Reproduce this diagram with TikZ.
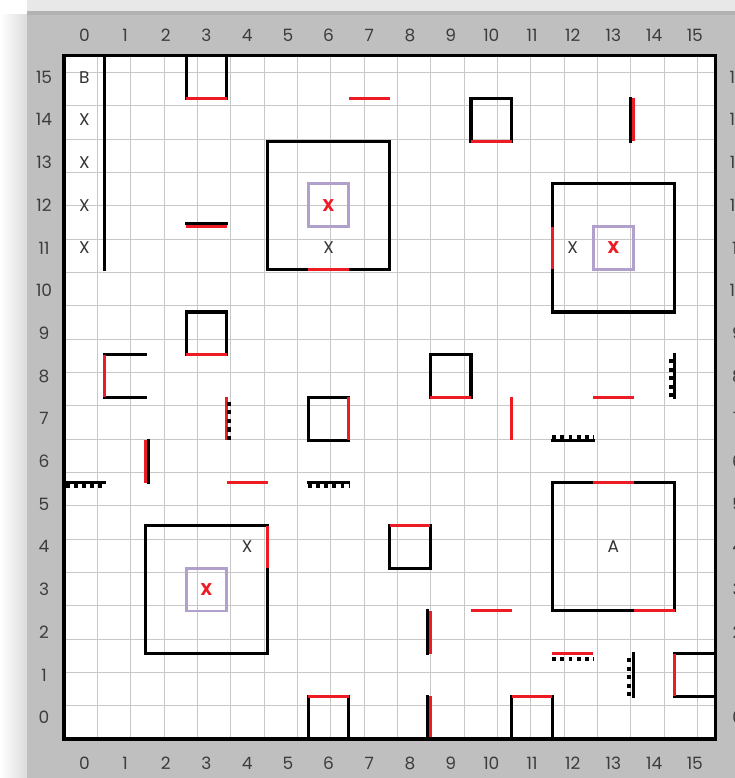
\documentclass[tikz,border=0pt]{standalone}
\usepackage{fontspec}
\setmainfont{Poppins}
\definecolor{framegray}{RGB}{191,191,191}
\definecolor{gridgray}{RGB}{200,200,200}
\definecolor{wallred}{RGB}{237,28,36}
\definecolor{cellpurple}{RGB}{178,160,204}
\definecolor{labelgray}{RGB}{60,60,60}
\tikzset{
	wall/.style={line width=2.6pt, line cap=rect},
	redwall/.style={wallred, line width=2.6pt},
	hcomb/.style={line width=3.2pt, dash pattern=on 3.3pt off 3.6pt},
	vcomb/.style={line width=3.2pt, dash pattern=on 3.5pt off 3.8pt},
	target/.style={draw=cellpurple, line width=2.4pt},
	numlabel/.style={text=labelgray, font=\fontsize{14.5}{15}\selectfont},
	cellmark/.style={text=black!80, font=\fontsize{14.5}{15}\selectfont},
	goalmark/.style={text=wallred, font=\bfseries\fontsize{14.5}{15}\selectfont},
}
\begin{document}
\begin{tikzpicture}[x=1.221cm,y=1.281cm]
	\useasboundingbox (-1.5725,-0.913) rectangle (16.486,17.307);
	\fill[white] (-1.5725,-0.913) rectangle (16.486,17.307);
	% frame and its shadow
	\shade[left color=white, right color=black!14] (-1.5725,-0.913) rectangle (-0.909,16.956);
	\fill[black!9] (-0.909,17.05) rectangle (16.486,17.307);
	\fill[black!30] (-0.909,16.956) rectangle (16.486,17.05);
	\fill[framegray] (-0.909,-0.913) rectangle (16.486,16.956);
	
	\fill[white] (0,0) rectangle (16,16);
	\draw[gridgray, line width=0.85pt] (0,0) grid (16,16);
	
	\foreach \i in {0,...,15}{
		\node[numlabel] (top\i) at (\i+0.5,16.487) {\i};
		\node[numlabel] (bot\i) at (\i+0.5,-0.562) {\i};
		\node[numlabel] (left\i) at (-0.49,\i+0.5) {\i};
		\node[numlabel] (right\i) at (16.55,\i+0.5) {\i};
	}
	
	% rooms
	\draw[wall] (1,16) -- (1,11);
	\draw[wall] (3,15) -- (3,16) (4,15) -- (4,16);
	\draw[redwall] (3,15) -- (4,15);
	\draw[wall] (3,12.07) -- (4,12.07);
	\draw[redwall] (3,12) -- (4,12);
	\draw[redwall] (7,15) -- (8,15);
	\draw[wall] (10,14) -- (10,15) -- (11,15) -- (11,14);
	\draw[redwall] (10,14) -- (11,14);
	\draw[wall] (13.925,14) -- (13.925,15);
	\draw[redwall] (14,14) -- (14,15);
	
	\draw[wall] (5,11) rectangle (8,14);
	\draw[redwall] (6,11) -- (7,11);
	\draw[wall] (12,10) rectangle (15,13);
	\draw[redwall] (12,11) -- (12,12);
	
	\draw[wall] (3,9) rectangle (4,10);
	\draw[redwall] (3,9) -- (4,9);
	\draw[wall] (2,9) -- (1,9) (1,8) -- (2,8);
	\draw[redwall] (1,8) -- (1,9);
	\draw[redwall] (4,7) -- (4,8);
	\draw[vcomb] (4.05,7) -- (4.05,8);
	\draw[redwall] (2,6) -- (2,7);
	\draw[wall] (2.075,6) -- (2.075,7);
	\draw[wall] (0,6) -- (1,6);
	\draw[hcomb] (0.05,5.93) -- (1,5.93);
	\draw[redwall] (4,6) -- (5,6);
	
	\draw[wall] (6,7) rectangle (7,8);
	\draw[redwall] (7,7) -- (7,8);
	\draw[wall] (6,6) -- (7,6);
	\draw[hcomb] (6,5.93) -- (7,5.93);
	\draw[wall] (9,8) rectangle (10,9);
	\draw[redwall] (9,8) -- (10,8);
	\draw[redwall] (11,7) -- (11,8);
	\draw[redwall] (13,8) -- (14,8);
	\draw[wall] (15,8) -- (15,9);
	\draw[vcomb] (14.92,8) -- (14.92,9);
	\draw[wall] (12,7) -- (13,7);
	\draw[hcomb] (12,7.08) -- (13,7.08);
	
	\draw[wall] (12,3) rectangle (15,6);
	\draw[redwall] (13,6) -- (14,6);
	\draw[redwall] (14,3) -- (15,3);
	\draw[wall] (2,2) rectangle (5,5);
	\draw[redwall] (5,4) -- (5,5);
	\draw[wall] (8,4) rectangle (9,5);
	\draw[redwall] (8,5) -- (9,5);
	\draw[wall] (8.925,2) -- (8.925,3) (8.925,0) -- (8.925,1);
	\draw[redwall] (9,2) -- (9,3) (9,0) -- (9,1);
	\draw[redwall] (10,3) -- (11,3);
	
	\draw[wall] (6,0) -- (6,1) -- (7,1) -- (7,0);
	\draw[redwall] (6,1) -- (7,1);
	\draw[wall] (11,0) -- (11,1) -- (12,1) -- (12,0);
	\draw[redwall] (11,1) -- (12,1);
	\draw[redwall] (12,2) -- (13,2);
	\draw[hcomb] (12,1.875) -- (13,1.875);
	\draw[wall] (14,1) -- (14,2);
	\draw[vcomb] (13.885,1) -- (13.885,2);
	\draw[wall] (16,2) -- (15,2) -- (15,1) -- (16,1);
	\draw[redwall] (15,1) -- (15,2);
	
	% targets
	\draw[target] (6,12) rectangle (7,13);
	\draw[target] (13,11) rectangle (14,12);
	\draw[target] (3,3) rectangle (4,4);
	
	\draw[line width=2.6pt] (0,0) rectangle (16,16);
	
	\node[cellmark] (start) at (0.5,15.5) {B};
	\foreach \r in {11,...,14}
		\node[cellmark] (q\r) at (0.5,\r+0.5) {X};
	\node[cellmark] (qa) at (6.5,11.5) {X};
	\node[cellmark] (qb) at (12.5,11.5) {X};
	\node[cellmark] (qc) at (4.5,4.5) {X};
	\node[cellmark] (goal) at (13.5,4.5) {A};
	\node[goalmark] (ga) at (6.5,12.5) {X};
	\node[goalmark] (gb) at (13.5,11.5) {X};
	\node[goalmark] (gc) at (3.5,3.5) {X};
\end{tikzpicture}
\end{document}
